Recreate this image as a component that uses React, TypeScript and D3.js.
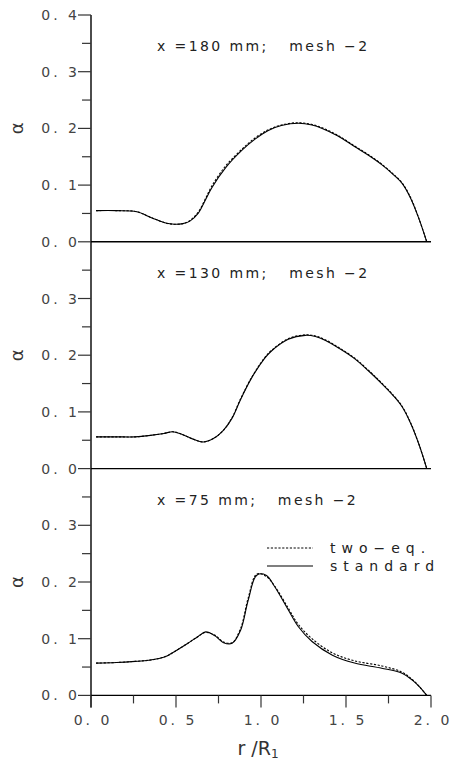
import React from "react";
import * as d3 from "d3";

// panel titles (top to bottom)
const panelTitles = ["x =180 mm;   mesh −2", "x =130 mm;   mesh −2", "x =75 mm;   mesh −2"];

// x = 180 mm
const r180 = [0.03, 0.15, 0.27, 0.36, 0.44, 0.49, 0.54, 0.58, 0.63, 0.67, 0.71, 0.79, 0.89, 0.965, 1.04, 1.12, 1.22, 1.3, 1.36, 1.45, 1.55, 1.63, 1.71, 1.78, 1.83, 1.88, 1.93, 1.975];
const std180 = [0.055, 0.055, 0.053, 0.042, 0.033, 0.031, 0.032, 0.036, 0.05, 0.072, 0.095, 0.13, 0.162, 0.181, 0.196, 0.205, 0.209, 0.206, 0.2, 0.187, 0.168, 0.153, 0.136, 0.118, 0.103, 0.077, 0.04, 0.0];
const two180 = [0.055, 0.055, 0.053, 0.042, 0.033, 0.031, 0.032, 0.037, 0.052, 0.074, 0.098, 0.133, 0.164, 0.183, 0.197, 0.206, 0.21, 0.207, 0.201, 0.188, 0.169, 0.154, 0.137, 0.119, 0.104, 0.078, 0.04, 0.0];

// x = 130 mm
const r130 = [0.03, 0.15, 0.26, 0.36, 0.43, 0.48, 0.53, 0.6, 0.66, 0.72, 0.78, 0.83, 0.88, 0.945, 1.02, 1.06, 1.16, 1.26, 1.32, 1.38, 1.46, 1.55, 1.63, 1.71, 1.78, 1.83, 1.88, 1.93, 1.975];
const std130 = [0.056, 0.056, 0.056, 0.059, 0.062, 0.065, 0.061, 0.052, 0.047, 0.053, 0.068, 0.089, 0.122, 0.16, 0.194, 0.207, 0.228, 0.235, 0.233, 0.226, 0.212, 0.194, 0.173, 0.15, 0.128, 0.109, 0.08, 0.042, 0.0];
const two130 = [0.056, 0.056, 0.056, 0.059, 0.062, 0.065, 0.061, 0.052, 0.047, 0.053, 0.068, 0.09, 0.123, 0.161, 0.195, 0.208, 0.229, 0.236, 0.234, 0.227, 0.213, 0.195, 0.174, 0.151, 0.129, 0.11, 0.081, 0.042, 0.0];

// x = 75 mm
const r75 = [0.03, 0.15, 0.26, 0.34, 0.4, 0.45, 0.49, 0.57, 0.63, 0.675, 0.73, 0.78, 0.83, 0.88, 0.925, 0.975, 1.03, 1.08, 1.16, 1.22, 1.3, 1.42, 1.55, 1.71, 1.83, 1.89, 1.93, 1.975];
const std75 = [0.057, 0.058, 0.06, 0.062, 0.065, 0.07, 0.077, 0.092, 0.104, 0.112, 0.105, 0.093, 0.092, 0.115, 0.168, 0.212, 0.212, 0.192, 0.151, 0.121, 0.095, 0.071, 0.057, 0.048, 0.039, 0.027, 0.016, 0.0];
const two75 = [0.057, 0.058, 0.06, 0.062, 0.065, 0.07, 0.077, 0.092, 0.104, 0.111, 0.106, 0.094, 0.093, 0.118, 0.172, 0.214, 0.21, 0.193, 0.154, 0.125, 0.1, 0.075, 0.061, 0.052, 0.041, 0.028, 0.016, 0.0];

const panels = [
  { title: panelTitles[0], r: r180, std: std180, two: two180 },
  { title: panelTitles[1], r: r130, std: std130, two: two130 },
  { title: panelTitles[2], r: r75, std: std75, two: two75 },
];

const xTicks = [0, 0.25, 0.5, 0.75, 1, 1.25, 1.5, 1.75, 2];
const xTickLabels = ["0. 0", "0. 5", "1. 0", "1. 5", "2. 0"];
const yTicks = [0, 0.05, 0.1, 0.15, 0.2, 0.25, 0.3, 0.35, 0.4];
const yTickLabels = ["0. 0", "0. 1", "0. 2", "0. 3", "0. 4"];
const legendLabels = ["two−eq.", "standard"];

const W = 456;
const H = 760;
const left = 91;
const right = 431;
const top0 = 15;
const panelH = 226.8;
const font = "'DejaVu Sans', sans-serif";

const x = d3.scaleLinear().domain([0, 2]).range([left, right]);

export default function App() {
  const bottomBase = top0 + panelH * 3;
  return (
    <svg width={W} height={H} style={{ position: "absolute", left: 0, top: 0, background: "#fff" }}>
      {/* y axis line */}
      <line x1={left} x2={left} y1={top0} y2={bottomBase + 12} stroke="#000" strokeWidth={1.4} />
      {panels.map((p, i) => {
        const base = top0 + panelH * (i + 1);
        const y = d3.scaleLinear().domain([0, 0.4]).range([base, base - panelH]);
        const line = d3
          .line<number>()
          .x((_, k) => x(p.r[k]))
          .y((d) => y(d))
          .curve(d3.curveCatmullRom.alpha(0.5));
        const ticks = i === 0 ? yTicks : yTicks.slice(0, -1);
        return (
          <g key={i}>
            <line x1={left} x2={right} y1={base} y2={base} stroke="#000" strokeWidth={1.4} />
            {ticks.map((t, k) => (
              <line key={k} x1={k % 2 === 0 ? left - 13 : left - 9} x2={left} y1={y(t)} y2={y(t)} stroke="#333" strokeWidth={1.2} />
            ))}
            {ticks.filter((_, k) => k % 2 === 0).map((t, k) => (
              <text key={k} x={80} y={y(t)} dy="0.36em" textAnchor="end" fontFamily={font} fontSize={14} fill="#444" style={{ whiteSpace: "pre", letterSpacing: "3px" }}>
                {yTickLabels[k]}
              </text>
            ))}
            <text transform={`translate(18,${y(0.2)}) rotate(-90)`} textAnchor="middle" dy="0.3em" fontFamily={font} fontSize={18} fill="#333">
              α
            </text>
            <text x={157} y={base - panelH + 36} fontFamily={font} fontSize={14} fill="#222" style={{ whiteSpace: "pre", letterSpacing: "2.4px" }}>
              {p.title}
            </text>
            <path d={line(p.two) || ""} fill="none" stroke="#000" strokeWidth={1.1} strokeDasharray="2.2,1.6" />
            <path d={line(p.std) || ""} fill="none" stroke="#000" strokeWidth={1.1} />
          </g>
        );
      })}
      {/* x axis ticks below bottom panel */}
      {xTicks.map((t, k) => (
        <line key={k} x1={x(t)} x2={x(t)} y1={bottomBase} y2={bottomBase + (k % 2 === 0 ? 12 : 8)} stroke="#333" strokeWidth={1.2} />
      ))}
      {xTickLabels.map((l, k) => (
        <text key={k} x={x(xTicks[k * 2]) + 2} y={bottomBase + 30} textAnchor="middle" fontFamily={font} fontSize={14} fill="#444" style={{ whiteSpace: "pre", letterSpacing: "3px" }}>
          {l}
        </text>
      ))}
      <text x={258} y={755} textAnchor="middle" fontFamily={font} fontSize={19} fill="#333" style={{ whiteSpace: "pre" }}>
        r /R<tspan fontSize={12} dy={3}>1</tspan>
      </text>
      {/* legend */}
      <line x1={267} x2={313} y1={548} y2={548} stroke="#000" strokeWidth={1} strokeDasharray="2.2,1.6" />
      <line x1={267} x2={313} y1={566} y2={566} stroke="#000" strokeWidth={1.2} />
      {legendLabels.map((l, k) => (
        <text key={k} x={330} y={553 + k * 18} fontFamily={font} fontSize={14} fill="#222" style={{ letterSpacing: "6px" }}>
          {l}
        </text>
      ))}
    </svg>
  );
}
